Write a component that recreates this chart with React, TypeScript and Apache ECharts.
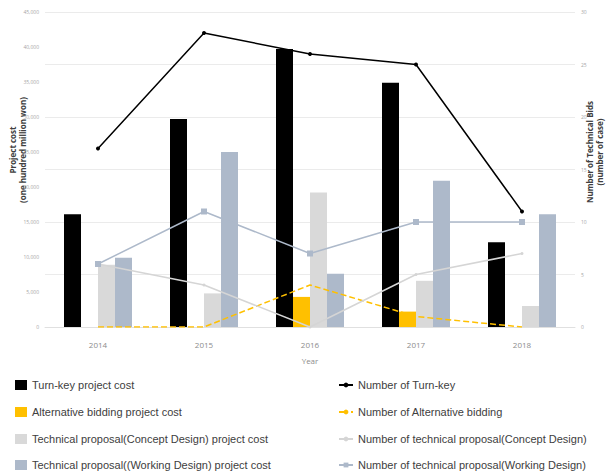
import React, { useEffect, useRef } from "react";
import * as echarts from "echarts";

const years = ["2014", "2015", "2016", "2017", "2018"];

const turnKeyCost = [16100, 29700, 39700, 34900, 12100];
const alternativeCost = [0, 0, 4300, 2200, 0];
const conceptCost = [8900, 4800, 19200, 6600, 3000];
const workingCost = [9900, 25000, 7600, 20900, 16100];

const turnKeyCount = [17, 28, 26, 25, 11];
const alternativeCount = [0, 0, 4, 1, 0];
const conceptCount = [6, 4, 0, 5, 7];
const workingCount = [6, 11, 7, 10, 10];

const barNames = [
  "Turn-key project cost",
  "Alternative bidding project cost",
  "Technical proposal(Concept Design) project cost",
  "Technical proposal((Working Design) project cost",
];
const lineNames = [
  "Number of Turn-key",
  "Number of Alternative bidding",
  "Number of technical proposal(Concept Design)",
  "Number of technical proposal(Working Design)",
];

const BLACK = "#000000";
const YELLOW = "#FFC000";
const LIGHT = "#D9D9D9";
const BLUE = "#ADB9CA";

const legendFont = '"Liberation Sans", Arial, sans-serif';
const titleFont = '"Open Sans", "DejaVu Sans", sans-serif';

const rowTops = [374, 401, 428, 454];

export default function App() {
  const ref = useRef<HTMLDivElement>(null);
  useEffect(() => {
    if (!ref.current) return;
    const chart = echarts.init(ref.current, undefined, { renderer: "svg" });
    const bar = (name: string, data: number[], color: string) => ({
      name,
      type: "bar",
      yAxisIndex: 0,
      data,
      barWidth: 17,
      barGap: "0%",
      itemStyle: { color },
      z: 1,
    });
    const line = (
      name: string,
      data: number[],
      color: string,
      symbol: string,
      symbolSize: number,
      dashed = false
    ) => ({
      name,
      type: "line",
      yAxisIndex: 1,
      data,
      symbol,
      symbolSize,
      itemStyle: { color },
      lineStyle: { color, width: 1.5, type: dashed ? "dashed" : "solid" },
      z: 5,
    });
    const legendText = { color: "#404040", fontSize: 11, lineHeight: 12, fontFamily: legendFont };
    const legends = [
      ...barNames.map((n, i) => ({
        data: [n],
        left: 10,
        top: rowTops[i],
        itemWidth: 12,
        itemHeight: 10,
        icon: "rect",
        textStyle: legendText,
      })),
      ...lineNames.map((n, i) => ({
        data: [n],
        left: 333,
        top: rowTops[i],
        itemWidth: 14,
        itemHeight: 6,
        textStyle: legendText,
      })),
    ];
    const title = (text: string, x: number, y: number) => ({
      type: "text",
      x,
      y,
      rotation: Math.PI / 2,
      style: {
        text,
        align: "center",
        verticalAlign: "middle",
        fill: "#404040",
        font: `bold 8px ${titleFont}`,
      },
    });
    chart.setOption({
      animation: false,
      backgroundColor: "#ffffff",
      grid: { left: 45, right: 31, top: 12, bottom: 148 },
      xAxis: {
        type: "category",
        data: years,
        name: "Year",
        nameLocation: "middle",
        nameGap: 29,
        nameTextStyle: { color: "#8c8c8c", fontSize: 8, fontFamily: titleFont },
        axisTick: { show: false },
        axisLine: { lineStyle: { color: "#e0e0e0" } },
        axisLabel: { color: "#8c8c8c", fontSize: 8, margin: 13, fontFamily: titleFont },
      },
      yAxis: [
        {
          type: "value",
          min: 0,
          max: 45000,
          interval: 5000,
          splitLine: { show: false },
          axisLine: { show: false },
          axisTick: { show: false },
          axisLabel: {
            color: "#a6a6a6",
            fontSize: 5,
            margin: 6,
            fontFamily: titleFont,
            formatter: (v: number) => v.toLocaleString("en-US"),
          },
        },
        {
          type: "value",
          min: 0,
          max: 30,
          interval: 5,
          position: "right",
          splitLine: { show: true, lineStyle: { color: "#ebebeb", width: 1 } },
          axisLine: { show: false },
          axisTick: { show: false },
          axisLabel: { color: "#a6a6a6", fontSize: 5, margin: 6, fontFamily: titleFont },
        },
      ],
      legend: legends,
      graphic: [
        title("Project cost", 12, 150),
        title("(one hundred million won)", 22, 150),
        title("Number of Technical Bids", 589, 152),
        title("(number of case)", 599, 152),
      ],
      series: [
        bar(barNames[0], turnKeyCost, BLACK),
        bar(barNames[1], alternativeCost, YELLOW),
        bar(barNames[2], conceptCost, LIGHT),
        bar(barNames[3], workingCost, BLUE),
        line(lineNames[0], turnKeyCount, BLACK, "circle", 4),
        line(lineNames[1], alternativeCount, YELLOW, "none", 0, true),
        line(lineNames[2], conceptCount, "#D5D5D5", "circle", 3),
        line(lineNames[3], workingCount, BLUE, "rect", 6),
      ],
    });
    return () => chart.dispose();
  }, []);
  return (
    <div
      ref={ref}
      style={{ position: "fixed", left: 0, top: 0, width: 606, height: 475 }}
    />
  );
}
